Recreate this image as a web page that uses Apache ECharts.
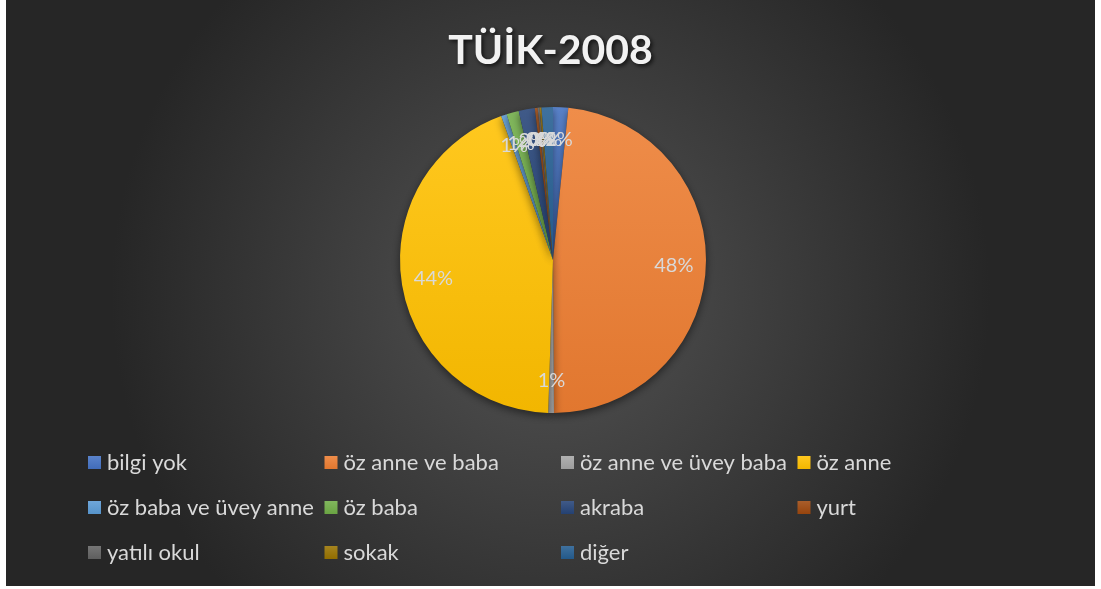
<!DOCTYPE html>
<html><head><meta charset="utf-8">
<script src="https://cdn.jsdelivr.net/npm/echarts@6/dist/echarts.min.js"></script>
<style>
html,body{margin:0;padding:0;background:#fff;width:1101px;height:589px;overflow:hidden}
#c{position:absolute;left:6px;top:0;width:1089px;height:586px}
</style></head>
<body><div id="c"></div>
<script>
const titleText = 'TÜİK-2008';
const categories = ['bilgi yok','öz anne ve baba','öz anne ve üvey baba','öz anne','öz baba ve üvey anne','öz baba','akraba','yurt','yatılı okul','sokak','diğer'];
const values = [1.6, 48.3, 0.6, 44.0, 0.6, 1.3, 1.7, 0.3, 0.2, 0.2, 1.2];
const colors = ['#4472c4','#ed7d31','#a5a5a5','#ffc000','#5b9bd5','#70ad47','#264478','#9e480e','#636363','#997300','#255e91'];

function lighten(hex, f){
  const n=parseInt(hex.slice(1),16);let r=n>>16,g=(n>>8)&255,b=n&255;
  r=Math.round(r+(255-r)*f);g=Math.round(g+(255-g)*f);b=Math.round(b+(255-b)*f);
  return 'rgb('+r+','+g+','+b+')';
}
function darken(hex,f){
  const n=parseInt(hex.slice(1),16);let r=n>>16,g=(n>>8)&255,b=n&255;
  return 'rgb('+Math.round(r*(1-f))+','+Math.round(g*(1-f))+','+Math.round(b*(1-f))+')';
}
const grad = c => new echarts.graphic.LinearGradient(0,0,0,1,[{offset:0,color:lighten(c,0.12)},{offset:1,color:darken(c,0.05)}]);

const chart = echarts.init(document.getElementById('c'));
const center = [547, 260];
chart.setOption({
  backgroundColor: new echarts.graphic.RadialGradient(0.5,0.5,0.75,[{offset:0,color:'#545454'},{offset:1,color:'#262626'}]),
  title: {text: titleText, left:'center', top: 25, textStyle:{color:'#f2f2f2', fontFamily:'Lato', fontWeight:'bold', fontSize:41, textShadowColor:'rgba(0,0,0,0.7)', textShadowBlur:4, textShadowOffsetX:2, textShadowOffsetY:2}},
  legend: {
    left: 82, top: 440, width: 960, orient:'horizontal', itemGap: 0, itemWidth: 13, itemHeight: 13, icon:'rect', padding: 0,
    data: categories,
    textStyle: {color:'#d9d9d9', fontFamily:'Lato', fontSize:22, width: 217.5, lineHeight: 45, padding:[0,0,0,1]}
  },
  series: [
    {
      type:'pie', center: center, radius:[0,153], startAngle:90, clockwise:true,
      label:{show:false}, labelLine:{show:false}, silent:true,
      itemStyle:{borderWidth:0, shadowColor:'rgba(0,0,0,0.5)', shadowBlur:8, shadowOffsetY:3},
      data: categories.map((n,i)=>({name:n, value:values[i], itemStyle:{color:grad(colors[i])}}))
    },
    {
      type:'pie', center: center, radius:[83,153], startAngle:90, clockwise:true, silent:true,
      legendHoverLink:false, avoidLabelOverlap:false, minShowLabelAngle:0,
      labelLayout:{hideOverlap:false},
      itemStyle:{color:'rgba(0,0,0,0)', borderWidth:0},
      label:{show:true, position:'inside', color:'#d9d9d9', fontFamily:'Lato', fontSize:20,
        formatter: p => Math.round(p.percent) + '%'},
      labelLine:{show:false},
      data: categories.map((n,i)=>({name:n+' ', value:values[i]}))
    }
  ]
});
</script></body></html>
